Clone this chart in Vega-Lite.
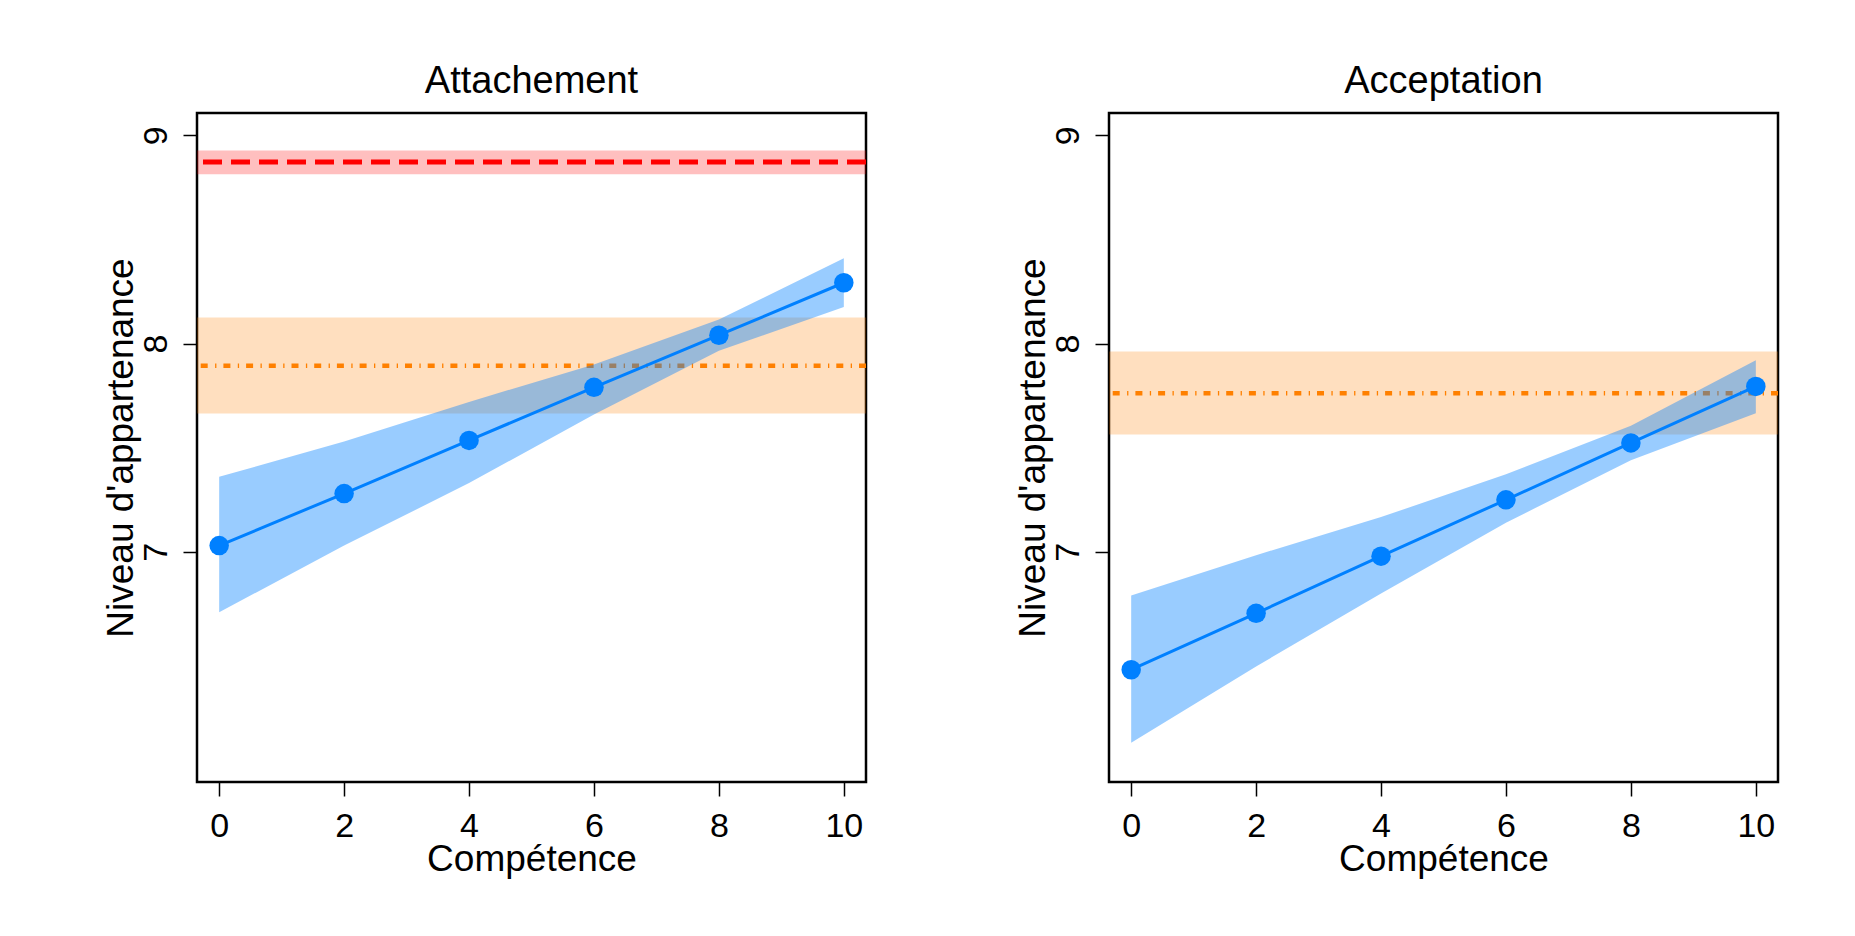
{
  "$schema": "https://vega.github.io/schema/vega-lite/v6.json",
  "autosize": {"type": "pad"},
  "padding": {"left": 100, "top": 61, "right": 5, "bottom": 5},
  "background": "white",
  "bounds": "flush",
  "spacing": 243,
  "config": {
    "font": "Liberation Sans",
    "view": {"stroke": "black", "strokeWidth": 2.5},
    "axis": {
      "grid": false,
      "domain": false,
      "tickColor": "black",
      "tickWidth": 1.5,
      "tickSize": 14,
      "labelFont": "Liberation Sans",
      "labelFontSize": 34,
      "labelColor": "black",
      "labelOverlap": false,
      "labelFlush": false,
      "format": "d",
      "titleFont": "Liberation Sans",
      "titleFontSize": 37,
      "titleColor": "black",
      "titleFontWeight": "normal"
    },
    "title": {"font": "Liberation Sans", "fontSize": 38, "fontWeight": "normal", "color": "black", "baseline": "alphabetic", "offset": 12, "frame": "group", "anchor": "middle"}
  },
  "datasets": {
    "fit": [
      {"panel": "Attachement", "comp": 0, "fit": 7.03, "lo": 6.71, "hi": 7.36},
      {"panel": "Attachement", "comp": 2, "fit": 7.28, "lo": 7.03, "hi": 7.53},
      {"panel": "Attachement", "comp": 4, "fit": 7.535, "lo": 7.33, "hi": 7.72},
      {"panel": "Attachement", "comp": 6, "fit": 7.79, "lo": 7.66, "hi": 7.9},
      {"panel": "Attachement", "comp": 8, "fit": 8.04, "lo": 7.965, "hi": 8.115},
      {"panel": "Attachement", "comp": 10, "fit": 8.292, "lo": 8.175, "hi": 8.41},
      {"panel": "Acceptation", "comp": 0, "fit": 6.434, "lo": 6.083, "hi": 6.79},
      {"panel": "Acceptation", "comp": 2, "fit": 6.705, "lo": 6.45, "hi": 6.984},
      {"panel": "Acceptation", "comp": 4, "fit": 6.979, "lo": 6.8, "hi": 7.167},
      {"panel": "Acceptation", "comp": 6, "fit": 7.25, "lo": 7.14, "hi": 7.372},
      {"panel": "Acceptation", "comp": 8, "fit": 7.523, "lo": 7.44, "hi": 7.606},
      {"panel": "Acceptation", "comp": 10, "fit": 7.794, "lo": 7.665, "hi": 7.92}
    ],
    "refs": [
      {"panel": "Attachement", "kind": "red", "value": 8.872, "lo": 8.813, "hi": 8.927},
      {"panel": "Attachement", "kind": "orange", "value": 7.893, "lo": 7.664, "hi": 8.125},
      {"panel": "Acceptation", "kind": "orange", "value": 7.761, "lo": 7.563, "hi": 7.962}
    ]
  },
  "hconcat": [
    {
      "title": {"text": "Attachement"},
      "width": 669,
      "height": 669,
      "layer": [
        {
          "data": {"name": "refs"},
          "transform": [{"filter": "datum.panel === 'Attachement' && datum.kind === 'red'"}],
          "mark": {"type": "rect", "color": "#FF0000", "opacity": 0.25},
          "encoding": {
            "x": {"value": 0}, "x2": {"value": "width"},
            "y": {"field": "lo", "type": "quantitative", "scale": {"domain": [5.895, 9.107], "nice": false, "zero": false}, "axis": {"values": [7, 8, 9], "labelAngle": 270, "labelAlign": "center", "labelBaseline": "alphabetic", "labelPadding": 17, "title": "Niveau d'appartenance", "titleAngle": 270, "titleBaseline": "alphabetic", "titleAlign": "center", "titleX": -65, "titleY": 334.5}},
            "y2": {"field": "hi"}
          }
        },
        {
          "data": {"name": "refs"},
          "transform": [{"filter": "datum.panel === 'Attachement' && datum.kind === 'red'"}],
          "mark": {"type": "rule", "color": "#FF0000", "strokeWidth": 5, "strokeDash": [19, 9]},
          "encoding": {"y": {"field": "value", "type": "quantitative"}}
        },
        {
          "data": {"name": "refs"},
          "transform": [{"filter": "datum.panel === 'Attachement' && datum.kind === 'orange'"}],
          "mark": {"type": "rect", "color": "#FF8000", "opacity": 0.25},
          "encoding": {
            "x": {"value": 0}, "x2": {"value": "width"},
            "y": {"field": "lo", "type": "quantitative"},
            "y2": {"field": "hi"}
          }
        },
        {
          "data": {"name": "refs"},
          "transform": [{"filter": "datum.panel === 'Attachement' && datum.kind === 'orange'"}],
          "mark": {"type": "rule", "color": "#FF8000", "strokeWidth": 4.5, "strokeDash": [7, 7, 1.3, 7.4]},
          "encoding": {"y": {"field": "value", "type": "quantitative"}}
        },
        {
          "data": {"name": "fit"},
          "transform": [{"filter": "datum.panel === 'Attachement'"}],
          "mark": {"type": "area", "color": "#0080FF", "opacity": 0.4},
          "encoding": {
            "x": {"field": "comp", "type": "quantitative", "scale": {"domain": [-0.355, 10.355], "nice": false, "zero": false}, "axis": {"values": [0, 2, 4, 6, 8, 10], "labelBaseline": "alphabetic", "labelAlign": "center", "labelPadding": 40, "title": "Compétence", "titleBaseline": "alphabetic", "titleAlign": "center", "titleX": 334.5, "titleY": 88}},
            "y": {"field": "lo", "type": "quantitative"},
            "y2": {"field": "hi"}
          }
        },
        {
          "data": {"name": "fit"},
          "transform": [{"filter": "datum.panel === 'Attachement'"}],
          "mark": {"type": "line", "color": "#0080FF", "strokeWidth": 3},
          "encoding": {
            "x": {"field": "comp", "type": "quantitative"},
            "y": {"field": "fit", "type": "quantitative"}
          }
        },
        {
          "data": {"name": "fit"},
          "transform": [{"filter": "datum.panel === 'Attachement'"}],
          "mark": {"type": "circle", "color": "#0080FF", "opacity": 1, "size": 380},
          "encoding": {
            "x": {"field": "comp", "type": "quantitative"},
            "y": {"field": "fit", "type": "quantitative"}
          }
        }
      ]
    },
    {
      "title": {"text": "Acceptation"},
      "width": 669,
      "height": 669,
      "layer": [
        {
          "data": {"name": "refs"},
          "transform": [{"filter": "datum.panel === 'Acceptation' && datum.kind === 'orange'"}],
          "mark": {"type": "rect", "color": "#FF8000", "opacity": 0.25},
          "encoding": {
            "x": {"value": 0}, "x2": {"value": "width"},
            "y": {"field": "lo", "type": "quantitative", "scale": {"domain": [5.895, 9.107], "nice": false, "zero": false}, "axis": {"values": [7, 8, 9], "labelAngle": 270, "labelAlign": "center", "labelBaseline": "alphabetic", "labelPadding": 17, "title": "Niveau d'appartenance", "titleAngle": 270, "titleBaseline": "alphabetic", "titleAlign": "center", "titleX": -65, "titleY": 334.5}},
            "y2": {"field": "hi"}
          }
        },
        {
          "data": {"name": "refs"},
          "transform": [{"filter": "datum.panel === 'Acceptation' && datum.kind === 'orange'"}],
          "mark": {"type": "rule", "color": "#FF8000", "strokeWidth": 4.5, "strokeDash": [7, 7, 1.3, 7.4]},
          "encoding": {"y": {"field": "value", "type": "quantitative"}}
        },
        {
          "data": {"name": "fit"},
          "transform": [{"filter": "datum.panel === 'Acceptation'"}],
          "mark": {"type": "area", "color": "#0080FF", "opacity": 0.4},
          "encoding": {
            "x": {"field": "comp", "type": "quantitative", "scale": {"domain": [-0.355, 10.355], "nice": false, "zero": false}, "axis": {"values": [0, 2, 4, 6, 8, 10], "labelBaseline": "alphabetic", "labelAlign": "center", "labelPadding": 40, "title": "Compétence", "titleBaseline": "alphabetic", "titleAlign": "center", "titleX": 334.5, "titleY": 88}},
            "y": {"field": "lo", "type": "quantitative"},
            "y2": {"field": "hi"}
          }
        },
        {
          "data": {"name": "fit"},
          "transform": [{"filter": "datum.panel === 'Acceptation'"}],
          "mark": {"type": "line", "color": "#0080FF", "strokeWidth": 3},
          "encoding": {
            "x": {"field": "comp", "type": "quantitative"},
            "y": {"field": "fit", "type": "quantitative"}
          }
        },
        {
          "data": {"name": "fit"},
          "transform": [{"filter": "datum.panel === 'Acceptation'"}],
          "mark": {"type": "circle", "color": "#0080FF", "opacity": 1, "size": 380},
          "encoding": {
            "x": {"field": "comp", "type": "quantitative"},
            "y": {"field": "fit", "type": "quantitative"}
          }
        }
      ]
    }
  ]
}
